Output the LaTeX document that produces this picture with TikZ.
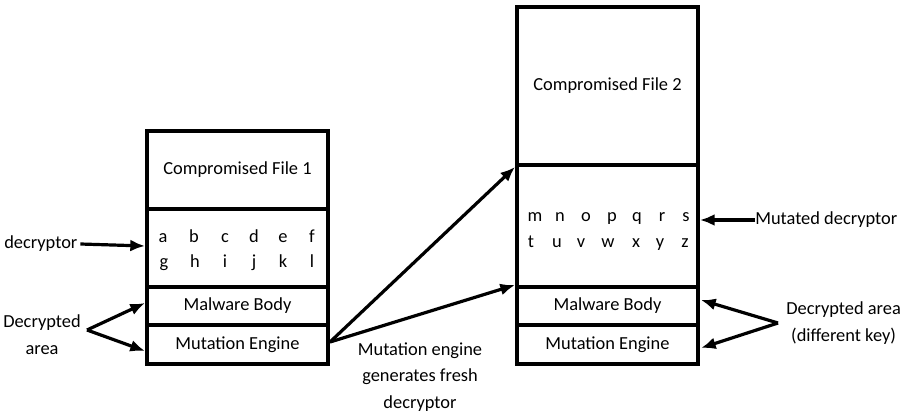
\documentclass[tikz,border=0pt]{standalone}
\usepackage{fontspec}
\setmainfont{Carlito}
\usetikzlibrary{arrows.meta}
\begin{document}
\begin{tikzpicture}[x=0.75pt,y=-0.75pt,
  sect/.style={draw=black,line width=3pt,minimum width=181*0.75pt,inner sep=0pt,font=\fontsize{13.8}{15}\selectfont},
  lbl/.style={font=\fontsize{13.8}{15}\selectfont,inner sep=0pt,align=center},
  arr/.style={line width=2.4pt,-{Latex[length=11pt,width=9pt]}},
  letters/.style={font=\fontsize{13.8}{15}\selectfont,inner sep=0pt,anchor=base}]
\useasboundingbox (0,0) rectangle (905,413);
% left file
\node[sect,minimum height=78*0.75pt] (L1) at (237.5,170) {Compromised File 1};
\node[sect,minimum height=78*0.75pt] (L2) at (237.5,248) {};
\node[sect,minimum height=38*0.75pt] (L3) at (237.5,306) {Malware Body};
\node[sect,minimum height=39*0.75pt] (L4) at (237.5,344.5) {Mutation Engine};
% left letters
\foreach \c/\x in {a/163,b/194,c/225,d/254,e/283,f/312}
  \node[letters] (l\c) at (\x,242) {\c};
\foreach \c/\x in {g/164,h/195,i/225,j/254,k/283,l/312}
  \node[letters] (l\c) at (\x,267) {\c};
% right file
\node[sect,minimum height=158*0.75pt] (R1) at (607.5,86) {Compromised File 2};
\node[sect,minimum height=122*0.75pt] (R2) at (607.5,226) {};
\node[sect,minimum height=38*0.75pt] (R3) at (607.5,306) {Malware Body};
\node[sect,minimum height=39*0.75pt] (R4) at (607.5,344.5) {Mutation Engine};
\foreach \c/\x in {m/535,n/560,o/586,p/612,q/637,r/662,s/686}
  \node[letters] (r\c) at (\x,221) {\c};
\foreach \c/\x in {t/531,u/557,v/581,w/608,x/636,y/660,z/685}
  \node[letters] (r\c) at (\x,247) {\c};
% labels
\node[lbl,anchor=west] (dec) at (4,244) {decryptor};
\node[lbl] (darea) at (42,335) {Decrypted\\[5pt]area};
\coordinate (dsplit) at (87,330);
\node[lbl,anchor=west] (mdec) at (755,220) {Mutated decryptor};
\node[lbl,anchor=west] (darea2) at (786,323) {Decrypted area\\[5pt](different key)};
\coordinate (dsplit2) at (778,323);
\node[lbl] (gen) at (420,377) {Mutation engine\\[5pt]generates fresh\\[5pt]decryptor};
\coordinate (mstart) at (330,342);
% arrows
\draw[arr] (dec.east) ++(2pt,0) -- (L2.west |- 0,246);
\draw[arr] (dsplit) -- (145,303);
\draw[arr] (dsplit) -- (145,351);
\draw[arr] (mstart) -- (R1.south west);
\draw[arr] (mstart) -- (R3.north west);
\draw[arr] (mdec.west) -- (R2.east |- 0,220);
\draw[arr] (dsplit2) -- (701,300);
\draw[arr] (dsplit2) -- (701,348);
\end{tikzpicture}
\end{document}
